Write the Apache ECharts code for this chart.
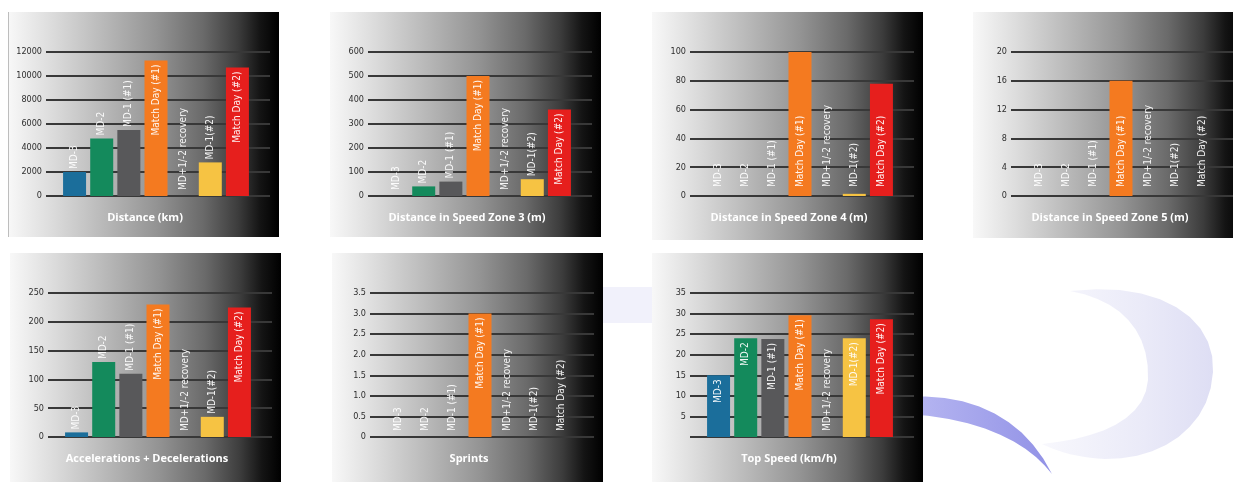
<!DOCTYPE html>
<html>
<head>
<meta charset="utf-8">
<script src="https://cdn.jsdelivr.net/npm/echarts@6/dist/echarts.min.js"></script>
<style>
  html, body { margin: 0; padding: 0; background: #fff; }
  #chart { width: 1233px; height: 482px; }
</style>
</head>
<body>
<div id="chart"></div>
<script>
// categories shared by every panel
var categories = ['MD-3', 'MD-2', 'MD-1 (#1)', 'Match Day (#1)', 'MD+1/-2 recovery', 'MD-1(#2)', 'Match Day (#2)'];

// values
var distance  = [2000, 4800, 5500, 11300, 0, 2800, 10700];
var zone3     = [0, 40, 60, 500, 0, 70, 360];
var zone4     = [0, 0, 0, 101, 0, 1.5, 78];
var zone5     = [0, 0, 0, 16, 0, 0, 0];
var accDec    = [8, 130, 110, 230, 0, 35, 225];
var sprints   = [0, 0, 0, 3, 0, 0, 0];
var topSpeed  = [15, 24, 23.8, 29.6, 0, 24, 28.6];

var barColors = ['#1b6e9b', '#148a5c', '#58585a', '#f47a20', '#8a93a0', '#f6c343', '#e61f1d'];

var condensed = "'DejaVu Sans Condensed', 'Liberation Sans Narrow', sans-serif";

// panel layout: labels 'auto' = inside top when tall, above otherwise; 'bottom' = all from baseline
var panels = [
  { title: 'Distance (km)',                 values: distance, max: 12000, step: 2000, left: 8,   top: 12,  h: 225, labels: 'auto', insideFrom: 0.55 },
  { title: 'Distance in Speed Zone 3 (m)',  values: zone3,    max: 600,   step: 100,  left: 330, top: 12,  h: 225, labels: 'auto', insideFrom: 0.55 },
  { title: 'Distance in Speed Zone 4 (m)',  values: zone4,    max: 100,   step: 20,   left: 652, top: 12,  h: 228, labels: 'bottom' },
  { title: 'Distance in Speed Zone 5 (m)',  values: zone5,    max: 20,    step: 4,    left: 973, top: 12,  h: 226, labels: 'bottom' },
  { title: 'Accelerations + Decelerations', values: accDec,   max: 250,   step: 50,   left: 10,  top: 253, h: 229, labels: 'auto', insideFrom: 0.55 },
  { title: 'Sprints',                       values: sprints,  max: 3.5,   step: 0.5,  left: 332, top: 253, h: 229, labels: 'auto', insideFrom: 0.55 },
  { title: 'Top Speed (km/h)',              values: topSpeed, max: 35,    step: 5,    left: 652, top: 253, h: 229, labels: 'auto', insideFrom: 0, hideZero: true }
];

function linear(stops) {
  return { type: 'linear', x: 0, y: 0, x2: 1, y2: 0, colorStops: stops };
}

// sample a chain of cubic curves into polygon points (decoration only)
function curvePoints(start, segs) {
  var pts = [start], p0 = start;
  segs.forEach(function (s) {
    for (var t = 0.1; t <= 1.0001; t += 0.1) {
      var u = 1 - t;
      pts.push([
        u*u*u*p0[0] + 3*u*u*t*s[0][0] + 3*u*t*t*s[1][0] + t*t*t*s[2][0],
        u*u*u*p0[1] + 3*u*u*t*s[0][1] + 3*u*t*t*s[1][1] + t*t*t*s[2][1]
      ]);
    }
    p0 = s[2];
  });
  return pts;
}

function labelFor(p, v) {
  var l = {
    show: true, formatter: '{b}', rotate: 90,
    color: 'rgba(255,255,255,0.93)', fontFamily: condensed, fontSize: 10,
    verticalAlign: 'middle'
  };
  if (p.labels === 'bottom') {
    l.position = 'insideBottom'; l.distance = 9; l.align = 'left';
  } else if (v > 0 && v / p.max >= p.insideFrom) {
    l.position = 'insideTop'; l.distance = 4; l.align = 'right';
  } else {
    l.position = 'top'; l.distance = v > 0 ? 3 : 6; l.align = 'left';
  }
  return l;
}

var grids = [], xAxes = [], yAxes = [], series = [], graphics = [];

// background decoration behind the panels
graphics.push({
  type: 'polygon', z: 0,
  shape: { points: curvePoints([1070, 291], [
    [[1160, 280], [1216, 318], [1213, 372]],
    [[1210, 428], [1160, 460], [1105, 459]],
    [[1080, 458], [1058, 452], [1042, 444]],
    [[1100, 438], [1145, 420], [1148, 380]],
    [[1150, 330], [1120, 300], [1070, 291]]
  ]) },
  style: { fill: linear([
    { offset: 0, color: '#f8f8fd' }, { offset: 0.6, color: '#eaeaf8' }, { offset: 1, color: '#dedef4' }
  ]) }
});
graphics.push({
  type: 'polygon', z: 0,
  shape: { points: curvePoints([905, 397], [
    [[975, 392], [1025, 420], [1052, 474]],
    [[1030, 445], [985, 418], [905, 414]]
  ]) },
  style: { fill: linear([
    { offset: 0, color: '#b8b8f2' }, { offset: 1, color: '#9292e6' }
  ]) }
});
graphics.push({
  type: 'rect', z: 0,
  shape: { x: 603, y: 287, width: 50, height: 36 },
  style: { fill: '#f1f1fb' }
});

panels.forEach(function (p, i) {
  // gradient panel
  graphics.push({
    type: 'rect', z: 1,
    shape: { x: p.left, y: p.top, width: 271, height: p.h },
    style: { fill: linear([
      { offset: 0, color: '#f8f8f8' },
      { offset: 0.15, color: '#dedede' },
      { offset: 0.35, color: '#b9b9b9' },
      { offset: 0.55, color: '#939393' },
      { offset: 0.72, color: '#6a6a6a' },
      { offset: 0.85, color: '#3c3c3c' },
      { offset: 0.93, color: '#141414' },
      { offset: 1, color: '#000' }
    ]) }
  });
  graphics.push({
    type: 'text', z: 10,
    x: p.left + 137, y: p.top + 206,
    style: {
      text: p.title, align: 'center', verticalAlign: 'middle',
      fill: '#fff', font: 'bold 11px "Open Sans", sans-serif'
    }
  });

  var g = i * 2;
  // wide grid: gridlines + tick labels
  grids.push({ left: p.left + 38, top: p.top + 40, width: 224, height: 144 });
  // narrow grid: bars
  grids.push({ left: p.left + 53, top: p.top + 40, width: 190, height: 144 });

  xAxes.push({ type: 'value', gridIndex: g, show: false, min: 0, max: 1 });
  xAxes.push({ type: 'category', gridIndex: g + 1, data: categories, show: false });

  yAxes.push({
    type: 'value', gridIndex: g, min: 0, max: p.max, interval: p.step, z: 3,
    axisLine: { show: false }, axisTick: { show: false },
    splitLine: { lineStyle: { color: '#383838', width: 2 } },
    axisLabel: {
      margin: 4, color: '#2e2e2e', fontFamily: condensed, fontSize: 9,
      formatter: function (v) {
        if (v === 0) return p.hideZero ? '' : '0';
        return p.step < 1 ? v.toFixed(1) : String(v);
      }
    }
  });
  yAxes.push({ type: 'value', gridIndex: g + 1, min: 0, max: p.max, show: false });

  series.push({
    type: 'bar', xAxisIndex: g + 1, yAxisIndex: g + 1, barWidth: 23, z: 4,
    data: p.values.map(function (v, k) {
      return { value: v, itemStyle: { color: barColors[k] }, label: labelFor(p, v) };
    })
  });
});

// thin border on first panel's left edge
graphics.push({ type: 'line', z: 2, shape: { x1: 8.5, y1: 12, x2: 8.5, y2: 237 }, style: { stroke: '#bdbdbd', lineWidth: 1 } });

echarts.init(document.getElementById('chart')).setOption({
  animation: false,
  graphic: graphics,
  grid: grids,
  xAxis: xAxes,
  yAxis: yAxes,
  series: series
});
</script>
</body>
</html>
